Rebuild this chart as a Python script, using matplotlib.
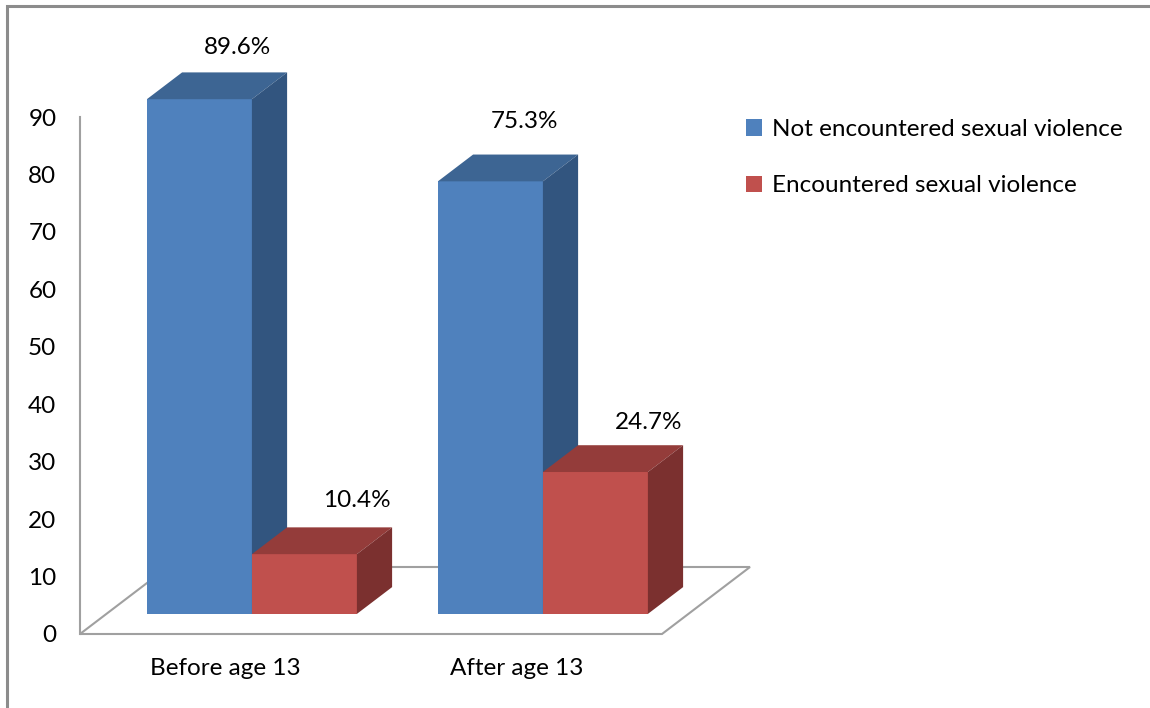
import matplotlib
matplotlib.use('Agg')
from matplotlib import pyplot as plt
from matplotlib.patches import Polygon, Rectangle, Patch

# data
categories = ['Before age 13', 'After age 13']
series_names = ['Not encountered sexual violence', 'Encountered sexual violence']
not_encountered = [89.6, 75.3]
encountered = [10.4, 24.7]
value_labels = [['89.6%', '75.3%'], ['10.4%', '24.7%']]
y_ticks = [0, 10, 20, 30, 40, 50, 60, 70, 80, 90]

# excel 2007 style colours: front, top, side face
front_colors = ['#4F81BD', '#C0504D']
top_colors = ['#3D6593', '#943C3A']
side_colors = ['#32557F', '#7B302F']
edge_gray = '#A0A0A0'

plt.rcParams['font.family'] = ['Lato', 'DejaVu Sans']
FONT = 17.5

W, H = 1150, 708
fig = plt.figure(figsize=(W / 100, H / 100), dpi=100)
ax = fig.add_axes([80 / W, 74 / H, 582 / W, 517 / H])
ax.set_xlim(-0.5, 1.5)
ax.set_ylim(0, 90)

# fake 3d: floor depth given in pixels, turned into data units
px_x = 582 / 2
px_y = 517 / 90
DX, DY = 88 / px_x, 67 / px_y
front_d, back_d = 0.3, 0.7   # bars sit in the middle of the floor depth
bar_w = 105 / px_x


def shift(x, y, d):
    return (x + d * DX, y + d * DY)


floor = Polygon([shift(-0.5, 0, 0), shift(1.5, 0, 0), shift(1.5, 0, 1), shift(-0.5, 0, 1)],
                closed=True, facecolor='white', edgecolor=edge_gray, lw=1.5,
                clip_on=False, zorder=1)
ax.add_patch(floor)

series = [not_encountered, encountered]
# per label nudge (px) from the back top edge centre, as excel placed them
label_nudge = [[(3, 25), (-1, 33)], [(17, 27), (18, 23)]]

z = 2
for i, cat in enumerate(categories):
    for s, values in enumerate(series):
        v = values[i]
        x0 = i + (s - 1) * bar_w
        x1 = x0 + bar_w
        front = ax.bar(x0 + bar_w / 2 + front_d * DX, v, width=bar_w,
                       bottom=front_d * DY, color=front_colors[s], lw=0)[0]
        front.set_clip_on(False)
        front.set_zorder(z)
        top = Polygon([shift(x0, v, front_d), shift(x1, v, front_d),
                       shift(x1, v, back_d), shift(x0, v, back_d)],
                      closed=True, facecolor=top_colors[s], lw=0,
                      clip_on=False, zorder=z + 0.1)
        side = Polygon([shift(x1, 0, front_d), shift(x1, v, front_d),
                        shift(x1, v, back_d), shift(x1, 0, back_d)],
                       closed=True, facecolor=side_colors[s], lw=0,
                       clip_on=False, zorder=z + 0.2)
        ax.add_patch(top)
        ax.add_patch(side)
        z += 1

        nx, ny = label_nudge[s][i]
        ax.annotate(value_labels[s][i], xy=shift((x0 + x1) / 2, v, back_d),
                    xytext=(nx * 0.72, ny * 0.72), textcoords='offset points',
                    ha='center', va='center', fontsize=FONT,
                    annotation_clip=False, zorder=20)

for side_name in ['top', 'right', 'bottom']:
    ax.spines[side_name].set_visible(False)
ax.spines['left'].set_color(edge_gray)
ax.spines['left'].set_linewidth(1.5)
ax.spines['left'].set_zorder(0.5)
ax.set_yticks(y_ticks)
ax.set_xticks([0, 1], categories)
ax.tick_params(axis='y', length=0, pad=17, labelsize=FONT)
ax.tick_params(axis='x', length=0, pad=17, labelsize=FONT)
ax.patch.set_visible(False)

handles = [Patch(facecolor=c, lw=0) for c in front_colors]
fig.legend(handles, series_names, loc='upper left', bbox_to_anchor=(746 / W, 1 - 119 / H),
           frameon=False, fontsize=FONT, handlelength=0.65, handleheight=0.65,
           handletextpad=0.4, labelspacing=1.45, borderpad=0, borderaxespad=0)

# chart area border (only left and top show in the crop)
border = Rectangle((7 / W, -0.05), 1.2, 1.05 - 6 / H, transform=fig.transFigure,
                   fill=False, edgecolor='#8C8C8C', lw=2.2)
fig.add_artist(border)

fig.savefig('out.png', dpi=100)
